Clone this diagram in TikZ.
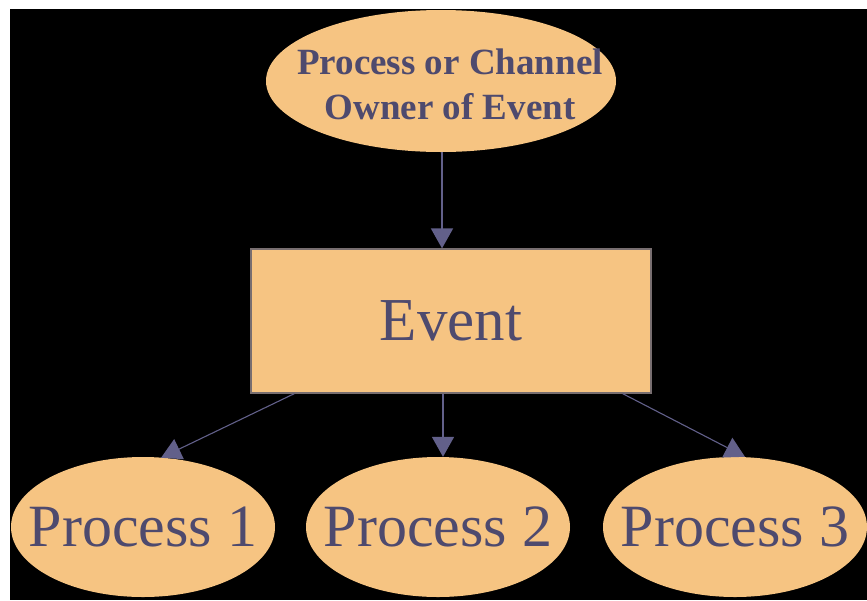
\documentclass[tikz,border=0pt]{standalone}
\usepackage{fontspec}
\setmainfont{Liberation Serif}
\usetikzlibrary{shapes.geometric,arrows.meta}

\definecolor{peach}{RGB}{246,196,130}
\definecolor{inkblue}{RGB}{78,74,110}
\definecolor{linkblue}{RGB}{98,96,138}
\definecolor{rimgray}{RGB}{120,110,112}

\tikzset{
  ownerbox/.style={ellipse, fill=peach, inner sep=0pt,
    minimum width=350pt, minimum height=142pt},
  ownertext/.style={inner sep=0pt, text=inkblue, align=center,
    font=\fontsize{37}{45}\selectfont\bfseries},
  eventbox/.style={rectangle, fill=peach, draw=rimgray, line width=1.2pt,
    inner sep=0pt, text=inkblue, minimum width=400pt, minimum height=144pt,
    font=\fontsize{61}{70}\selectfont},
  procbox/.style={ellipse, fill=peach, inner sep=0pt, text=inkblue,
    minimum width=264pt, minimum height=140pt,
    font=\fontsize{60}{70}\selectfont},
  link/.style={draw=linkblue, line width=1.6pt,
    -{Triangle[width=22pt,length=20pt]}},
  thinlink/.style={link, line width=1.1pt}
}

\begin{document}
\begin{tikzpicture}[x=1pt,y=-1pt]
  % canvas: white margin strips on top and left, black field elsewhere
  \useasboundingbox (0,0) rectangle (867,600);
  \fill[white] (0,0) rectangle (867,600);
  \fill[black] (10,9) rectangle (867,600);

  % nodes
  \node[ownerbox] (owner) at (441,81) {};
  \node[ownertext] (ownerlabel) at (450,84) {Process or Channel\\Owner of Event};
  \node[eventbox] (event) at (451,321) {Event};
  \node[procbox] (p1) at (143,527) {\makebox[0pt]{Process 1}};
  \node[procbox] (p2) at (438,527) {\makebox[0pt]{Process 2}};
  \node[procbox] (p3) at (735,527) {\makebox[0pt]{Process 3}};

  % connectors
  \coordinate (evL) at ([xshift=44pt]event.south west);
  \coordinate (evR) at ([xshift=-29pt]event.south east);
  \coordinate (evM) at ([xshift=2pt]event.south -| owner.south);
  \coordinate (p1in) at ([xshift=18pt,yshift=-1pt]p1.north);
  \coordinate (p3in) at ([xshift=10pt]p3.north);

  \draw[link] ([xshift=1pt]owner.south) -- ([xshift=1pt]owner.south |- event.north);
  \draw[link] (evM) -- (evM |- p2.north);
  \draw[thinlink] (evL) -- (p1in);
  \draw[thinlink] (evR) -- (p3in);
\end{tikzpicture}
\end{document}
